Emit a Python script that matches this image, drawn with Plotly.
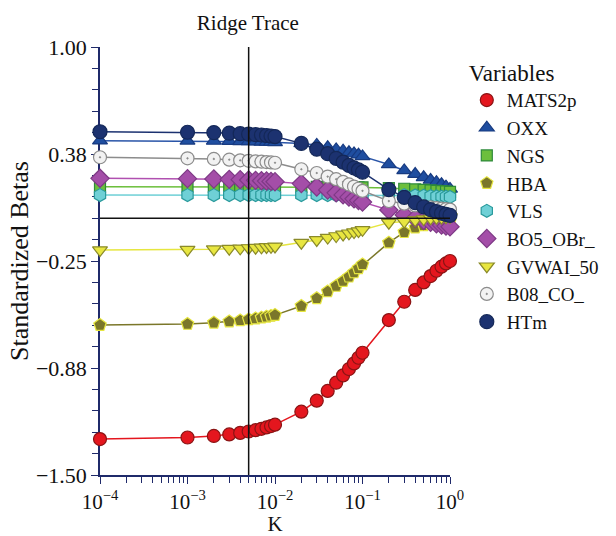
import plotly.graph_objects as go

# ---------------- data ----------------
K = [0.0001,
     0.001, 0.002, 0.003, 0.004, 0.005, 0.006, 0.007, 0.008, 0.009, 0.01,
     0.02, 0.03, 0.04, 0.05, 0.06, 0.07, 0.08, 0.09, 0.1,
     0.2, 0.3, 0.4, 0.5, 0.6, 0.7, 0.8, 0.9, 1.0]

MATS2p = [-1.290,
          -1.281, -1.272, -1.263, -1.254, -1.246, -1.238, -1.230, -1.222, -1.214, -1.206,
          -1.130, -1.066, -1.009, -0.961, -0.918, -0.881, -0.848, -0.815, -0.786,
          -0.595, -0.488, -0.419, -0.375, -0.338, -0.307, -0.283, -0.264, -0.250]
OXX = [0.453,
       0.452, 0.451, 0.450, 0.449, 0.448, 0.447, 0.446, 0.445, 0.444, 0.443,
       0.437, 0.428, 0.414, 0.402, 0.394, 0.385, 0.378, 0.371, 0.361,
       0.314, 0.279, 0.258, 0.239, 0.223, 0.210, 0.198, 0.184, 0.171]
NGS = [0.184,
       0.184, 0.184, 0.184, 0.184, 0.184, 0.184, 0.184, 0.184, 0.184, 0.184,
       0.183, 0.183, 0.182, 0.182, 0.181, 0.181, 0.181, 0.180, 0.180,
       0.176, 0.172, 0.168, 0.165, 0.162, 0.160, 0.158, 0.156, 0.154]
HBA = [-0.624,
       -0.618, -0.611, -0.604, -0.597, -0.591, -0.586, -0.581, -0.576, -0.571, -0.566,
       -0.513, -0.468, -0.428, -0.396, -0.368, -0.342, -0.317, -0.293, -0.270,
       -0.143, -0.082, -0.055, -0.042, -0.033, -0.026, -0.021, -0.017, -0.014]
VLS = [0.135,
       0.135, 0.135, 0.135, 0.135, 0.135, 0.135, 0.135, 0.135, 0.135, 0.135,
       0.135, 0.135, 0.135, 0.135, 0.135, 0.136, 0.136, 0.136, 0.136,
       0.136, 0.135, 0.133, 0.131, 0.129, 0.127, 0.126, 0.125, 0.124]
BO5_OBr_ = [0.233,
            0.231, 0.229, 0.227, 0.225, 0.223, 0.221, 0.219, 0.217, 0.215, 0.213,
            0.202, 0.182, 0.165, 0.148, 0.136, 0.123, 0.113, 0.103, 0.094,
            0.048, 0.019, 0.000, -0.013, -0.024, -0.033, -0.040, -0.046, -0.050]
GVWAI_50 = [-0.186,
            -0.184, -0.181, -0.178, -0.176, -0.174, -0.172, -0.170, -0.168, -0.167, -0.165,
            -0.143, -0.127, -0.113, -0.104, -0.095, -0.088, -0.081, -0.075, -0.068,
            -0.026, -0.020, -0.011, -0.005, -0.001, 0.002, 0.004, 0.006, 0.007]
B08_CO_ = [0.356,
           0.350, 0.346, 0.342, 0.338, 0.335, 0.332, 0.330, 0.328, 0.326, 0.324,
           0.286, 0.264, 0.243, 0.228, 0.212, 0.197, 0.185, 0.172, 0.160,
           0.100, 0.085, 0.075, 0.068, 0.063, 0.059, 0.056, 0.053, 0.050]
HTm = [0.505,
       0.502, 0.500, 0.497, 0.494, 0.491, 0.488, 0.486, 0.483, 0.480, 0.477,
       0.437, 0.403, 0.377, 0.350, 0.327, 0.308, 0.294, 0.282, 0.269,
       0.167, 0.122, 0.091, 0.066, 0.050, 0.038, 0.029, 0.022, 0.017]

series_names = ["MATS2p", "OXX", "NGS", "HBA", "VLS", "BO5_OBr_", "GVWAI_50", "B08_CO_", "HTm"]
series_values = [MATS2p, OXX, NGS, HBA, VLS, BO5_OBr_, GVWAI_50, B08_CO_, HTm]

K_CHOSEN = 0.005
Y_TICKS = [1.0, 0.375, -0.25, -0.875, -1.5]
Y_TICK_LABELS = ["1.00", "0.38", "\u22120.25", "\u22120.88", "\u22121.50"]
X_TICKS = [1e-4, 1e-3, 1e-2, 1e-1, 1e0]
X_TICK_LABELS = ["10<sup>\u22124</sup>", "10<sup>\u22123</sup>", "10<sup>\u22122</sup>",
                 "10<sup>\u22121</sup>", "10<sup>0</sup>"]

# ---------------- styles ----------------
styles = {
    "MATS2p":   dict(symbol="circle", color="#e4161e", line="#8a1414", lc="#e4161e", size=13),
    "OXX":      dict(symbol="triangle-up", color="#1f4ea0", line="#173a80", lc="#2a55a8", size=13),
    "NGS":      dict(symbol="square", color="#6cbf3c", line="#2e8a3a", lc="#6cbf3c", size=11),
    "HBA":      dict(symbol="pentagon", color="#7b772a", line="#e6e640", lc="#7b772a", size=13),
    "VLS":      dict(symbol="hexagon", color="#6fd0d6", line="#2a9a9c", lc="#6fd0d6", size=13),
    "BO5_OBr_": dict(symbol="diamond", color="#a44ea8", line="#7e3a86", lc="#b050b0", size=14),
    "GVWAI_50": dict(symbol="triangle-down", color="#e8e640", line="#8a8a2a", lc="#e6e640", size=13),
    "B08_CO_":  dict(symbol="circle-dot", color="#f2f2f2", line="#8c8c8c", lc="#8c8c8c", size=13),
    "HTm":      dict(symbol="circle", color="#1c3270", line="#142858", lc="#1c3270", size=14),
}

FONT = "Liberation Serif, Times New Roman, serif"
AXCOL = "#1f2a6a"
FS = 21

fig = go.Figure()
for name, vals in zip(series_names, series_values):
    s = styles[name]
    fig.add_trace(go.Scatter(
        x=K, y=vals, name=name, mode="lines", showlegend=False,
        cliponaxis=False, hoverinfo="skip",
        line=dict(color=s["lc"], width=1.5),
    ))
    fig.add_trace(go.Scatter(
        x=K, y=vals, name=name, mode="markers",
        cliponaxis=False,
        marker=dict(symbol=s["symbol"], size=s["size"], color=s["color"],
                    line=dict(color=s["line"], width=1.2)),
    ))

# reference lines (drawn on top)
fig.add_trace(go.Scatter(x=[K_CHOSEN, K_CHOSEN], y=[Y_TICKS[-1], Y_TICKS[0]], mode="lines",
                         line=dict(color="#111111", width=1.5), showlegend=False,
                         hoverinfo="skip", cliponaxis=False))
fig.add_trace(go.Scatter(x=[X_TICKS[0], X_TICKS[-1]], y=[0, 0], mode="lines",
                         line=dict(color="#111111", width=1.5), showlegend=False,
                         hoverinfo="skip", cliponaxis=False))

minor_x = [m * 10 ** e for e in range(-4, 0) for m in range(2, 10)]

fig.update_layout(
    width=616, height=536,
    margin=dict(l=100, r=161, t=47, b=61),
    paper_bgcolor="white", plot_bgcolor="white",
    font=dict(family=FONT, size=FS, color="#111111"),
    title=dict(text="Ridge Trace", x=0.4225, xref="paper", xanchor="center",
               y=1 - 23 / 536, yanchor="middle", font=dict(size=FS, family=FONT)),
    showlegend=True,
    legend=dict(x=1.048, xanchor="left", y=0.99, yanchor="top",
                title=dict(text="Variables", font=dict(size=23, family=FONT)),
                font=dict(size=19, family=FONT), tracegroupgap=0,
                itemsizing="trace", bgcolor="rgba(0,0,0,0)"),
    xaxis=dict(type="log", range=[-4, 0], showgrid=False, zeroline=False, automargin=False,
               showline=True, linecolor=AXCOL, linewidth=1.5, layer="below traces",
               tickmode="array", tickvals=X_TICKS, ticktext=X_TICK_LABELS,
               ticks="outside", ticklen=7, tickcolor=AXCOL, tickwidth=1.2,
               tickfont=dict(size=FS, family=FONT),
               minor=dict(tickmode="array", tickvals=minor_x, ticks="outside",
                          ticklen=6, tickcolor=AXCOL, tickwidth=1.2, showgrid=False),
               title=dict(text="K", font=dict(size=FS, family=FONT), standoff=2)),
    yaxis=dict(range=[-1.5, 1.0], showgrid=False, zeroline=False, automargin=False,
               showline=True, linecolor=AXCOL, linewidth=1.5, layer="below traces",
               tickmode="array", tickvals=Y_TICKS, ticktext=Y_TICK_LABELS,
               ticks="outside", ticklen=7, tickcolor=AXCOL, tickwidth=1.2,
               tickfont=dict(size=FS + 1, family=FONT),
               minor=dict(dtick=0.125, tick0=-1.5, ticks="outside",
                          ticklen=6, tickcolor=AXCOL, tickwidth=1.2, showgrid=False),
               title=dict(text="Standardized Betas", font=dict(size=26, family=FONT), standoff=0)),
)

fig.write_html("out.html", config={"displayModeBar": False},
               post_script="document.body.style.margin='0';")
